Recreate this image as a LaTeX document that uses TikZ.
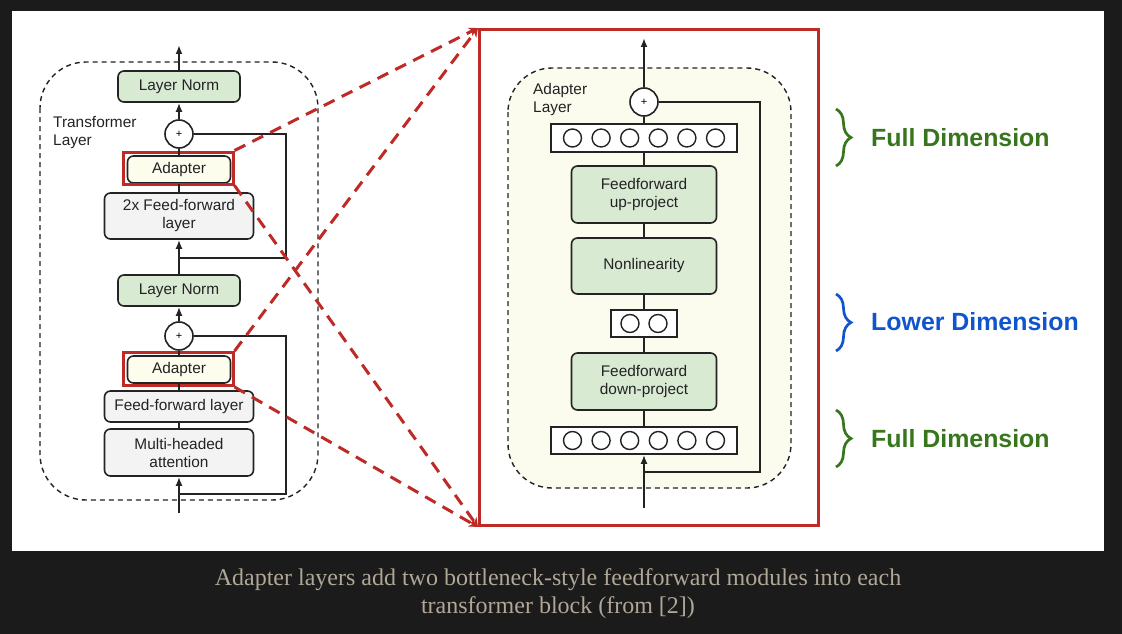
\documentclass[tikz,border=0pt]{standalone}
\usepackage{fontspec}
\setmainfont{Liberation Sans}
\newfontfamily\capfont{Liberation Serif}
\usetikzlibrary{arrows.meta,decorations.pathreplacing}

\definecolor{bgdark}{RGB}{27,27,27}
\definecolor{normgreen}{RGB}{217,234,211}
\definecolor{layergray}{RGB}{243,243,243}
\definecolor{adaptyellow}{RGB}{253,253,238}
\definecolor{panelyellow}{RGB}{252,252,238}
\definecolor{zoomred}{RGB}{190,42,38}
\definecolor{fullgreen}{RGB}{56,118,29}
\definecolor{lowblue}{RGB}{17,85,204}
\definecolor{captext}{RGB}{176,167,151}
\definecolor{edge}{RGB}{35,35,35}

\tikzset{
    block/.style={draw=edge, line width=1.6pt, rounded corners=6pt, align=center,
        inner sep=0pt, text=edge, font=\fontsize{15.4}{18}\selectfont},
    normbox/.style={block, fill=normgreen, minimum width=122pt, minimum height=31pt},
    graybox/.style={block, fill=layergray, minimum width=149pt},
    adaptbox/.style={block, fill=adaptyellow, minimum width=103pt, minimum height=27pt},
    projbox/.style={block, fill=normgreen, minimum width=145pt, minimum height=57pt},
    sumnode/.style={circle, draw=edge, line width=1.6pt, fill=white, minimum size=28pt,
        inner sep=0pt, font=\fontsize{11}{11}\selectfont},
    vecbox/.style={draw=edge, line width=1.6pt, fill=white, minimum height=27pt, inner sep=0pt},
    unit/.style={circle, draw=edge, line width=1.4pt, minimum size=18pt, inner sep=0pt},
    redframe/.style={draw=zoomred, line width=3pt},
    wire/.style={draw=edge, line width=1.8pt},
    flow/.style={wire, -{Latex[length=9pt,width=7pt]}},
    layerbox/.style={draw=edge, line width=1.4pt, dash pattern=on 5pt off 4pt},
    zoomline/.style={draw=zoomred, line width=3pt, dash pattern=on 12pt off 8pt,
        -{Stealth[length=9pt,width=9pt]}},
    dimbrace/.style={line width=2.7pt, decorate, decoration={brace, amplitude=15pt}},
    dimlabel/.style={anchor=west, inner sep=0pt, font=\fontsize{24.9}{28}\selectfont\bfseries},
    caption/.style={align=center, text=captext, font=\capfont\fontsize{24}{28}\selectfont}
}

\begin{document}
\begin{tikzpicture}[x=1pt, y=-1pt]
    \fill[bgdark] (0,0) rectangle (1122,634);
    \useasboundingbox (0,0) rectangle (1122,634);
    \fill[white] (12,11) rectangle (1104,551);

    % transformer layer (left)
    \draw[layerbox, rounded corners=46pt] (40,62) rectangle (318,500);
    \node[anchor=west, align=left, inner sep=0pt, text=edge, font=\fontsize{15.4}{18}\selectfont]
        (tlabel) at (53,133) {Transformer\\Layer};

    \node[normbox] (ln1) at (179,86.5) {Layer Norm};
    \node[sumnode] (plus1) at (179,134) {+};
    \node[adaptbox] (ad1) at (179,169.5) {Adapter};
    \node[redframe, minimum width=110pt, minimum height=32pt] (fr1) at (178,168) {};
    \node[graybox, minimum height=46pt] (ff2) at (179,216) {2x Feed-forward\\layer};
    \node[normbox] (ln2) at (179,290.5) {Layer Norm};
    \node[sumnode] (plus2) at (179,336) {+};
    \node[adaptbox] (ad2) at (179,369.5) {Adapter};
    \node[redframe, minimum width=110pt, minimum height=33pt] (fr2) at (178,369) {};
    \node[graybox, minimum height=31pt] (ff1) at (179,406.5) {Feed-forward layer};
    \node[graybox, minimum height=47pt] (mha) at (179,452.5) {Multi-headed\\attention};

    \coordinate (out1) at (179,45);
    \coordinate (in1) at (179,513);
    \coordinate (j1) at (179,258);
    \coordinate (c1) at (286,258);
    \coordinate (j2) at (179,494);
    \coordinate (c2) at (286,494);

    \draw[flow] (ln1.north) -- (out1);
    \draw[flow] (plus1.north) -- (ln1.south);
    \draw[wire] (ad1.north) -- (plus1.south);
    \draw[wire] (ff2.north) -- (ad1.south);
    \draw[flow] (ln2.north) -- (ff2.south);
    \draw[wire] (plus1.east) -| (c1) -- (j1);
    \draw[flow] (plus2.north) -- (ln2.south);
    \draw[wire] (ad2.north) -- (plus2.south);
    \draw[wire] (ff1.north) -- (ad2.south);
    \draw[wire] (mha.north) -- (ff1.south);
    \draw[flow] (in1) -- (mha.south);
    \draw[wire] (plus2.east) -| (c2) -- (j2);

    % adapter layer (right)
    \node[redframe, minimum width=339pt, minimum height=496pt] (zoom) at (649,277.5) {};
    \draw[layerbox, fill=panelyellow, rounded corners=44pt] (508,68) rectangle (791,488);
    \node[anchor=west, align=left, inner sep=0pt, text=edge, font=\fontsize{15.4}{18}\selectfont]
        (alabel) at (533,100) {Adapter\\Layer};

    \node[sumnode] (plusA) at (644,102) {+};
    \node[vecbox, minimum width=186pt, minimum height=28pt] (topvec) at (644,138) {};
    \foreach \i in {0,...,5}
        \node[unit] (t\i) at (572.5+28.6*\i,138) {};
    \node[projbox] (up) at (644,194.5) {Feedforward\\up-project};
    \node[projbox, minimum height=56pt] (nonlin) at (644,266) {Nonlinearity};
    \node[vecbox, minimum width=66pt] (midvec) at (644,323.5) {};
    \foreach \i in {0,1}
        \node[unit] (m\i) at (630+28*\i,323.5) {};
    \node[projbox] (down) at (644,381.5) {Feedforward\\down-project};
    \node[vecbox, minimum width=186pt] (botvec) at (644,440.5) {};
    \foreach \i in {0,...,5}
        \node[unit] (b\i) at (572.5+28.6*\i,440.5) {};

    \coordinate (outA) at (644,38);
    \coordinate (inA) at (644,508);
    \coordinate (jA) at (644,472);
    \coordinate (cA) at (760,472);

    \draw[flow] (plusA.north) -- (outA);
    \draw[wire] (topvec.north) -- (plusA.south);
    \draw[wire] (up.north) -- (topvec.south);
    \draw[wire] (nonlin.north) -- (up.south);
    \draw[wire] (midvec.north) -- (nonlin.south);
    \draw[wire] (down.north) -- (midvec.south);
    \draw[wire] (botvec.north) -- (down.south);
    \draw[flow] (inA) -- (botvec.south);
    \draw[wire] (plusA.east) -| (cA) -- (jA);

    % zoom lines
    \draw[zoomline] (fr1.north east) -- (zoom.north west);
    \draw[zoomline] (fr2.north east) -- (zoom.north west);
    \draw[zoomline] (fr1.south east) -- (zoom.south west);
    \draw[zoomline] (fr2.south east) -- (zoom.south west);

    % dimensions
    \coordinate (br1a) at (836,109);
    \coordinate (br1b) at (836,166);
    \coordinate (br2a) at (836,294);
    \coordinate (br2b) at (836,351);
    \coordinate (br3a) at (836,410);
    \coordinate (br3b) at (836,467);
    \draw[dimbrace, draw=fullgreen] (br1a) -- (br1b);
    \draw[dimbrace, draw=lowblue] (br2a) -- (br2b);
    \draw[dimbrace, draw=fullgreen] (br3a) -- (br3b);
    \node[dimlabel, text=fullgreen] (full1) at (871,138) {Full Dimension};
    \node[dimlabel, text=lowblue] (low) at (871,322) {Lower Dimension};
    \node[dimlabel, text=fullgreen] (full2) at (871,439) {Full Dimension};

    \node[caption] (cap) at (558,594) {Adapter layers add two bottleneck-style feedforward modules into each\\transformer block (from [2])};
\end{tikzpicture}
\end{document}
